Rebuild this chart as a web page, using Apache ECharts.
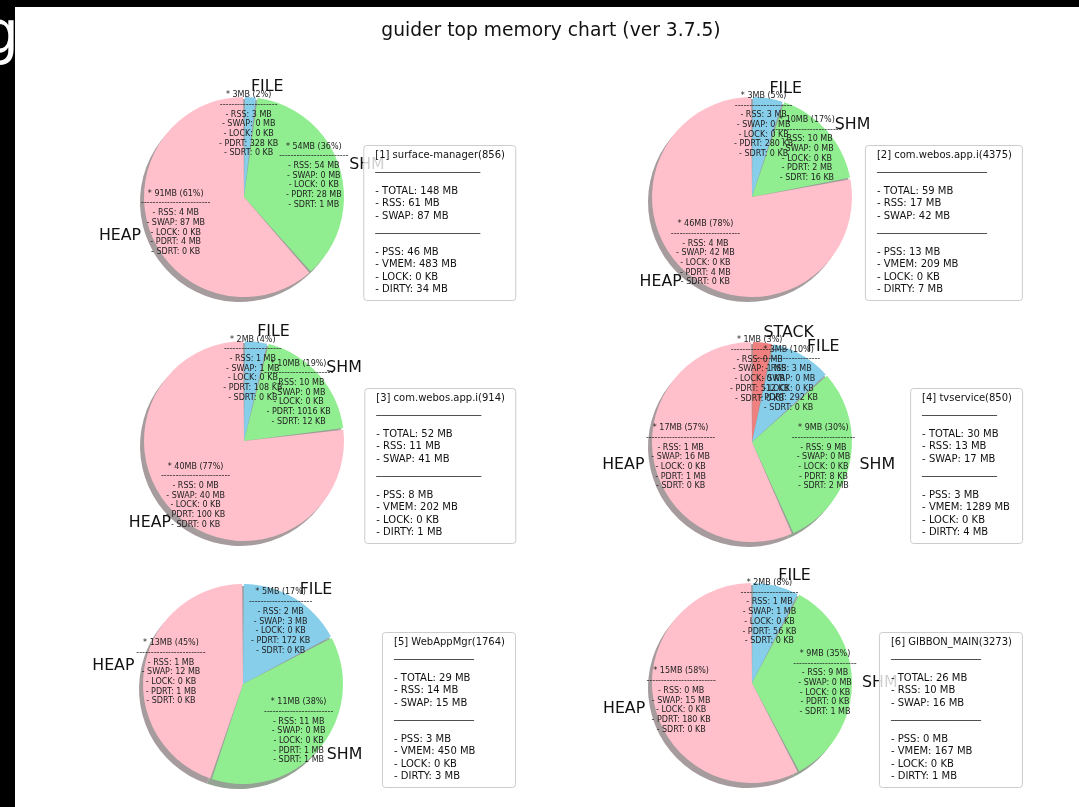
<!DOCTYPE html>
<html><head><meta charset="utf-8">
<script src="https://cdn.jsdelivr.net/npm/echarts@6/dist/echarts.min.js"></script>
<style>html,body{margin:0;padding:0;background:#fff}#c{width:1079px;height:807px}</style>
</head><body><div id="c"></div>
<script>
// ---------- data ----------
const chartTitle = 'guider top memory chart (ver 3.7.5)';
const procTitles = ['[1] surface-manager(856)', '[2] com.webos.app.i(4375)', '[3] com.webos.app.i(914)',
                    '[4] tvservice(850)', '[5] WebAppMgr(1764)', '[6] GIBBON_MAIN(3273)'];
const totalMB = [148, 59, 52, 30, 29, 26];
const rssMB   = [61, 17, 11, 13, 14, 10];
const swapMB  = [87, 42, 41, 17, 15, 16];
const pssMB   = [46, 13, 8, 3, 3, 0];
const vmemMB  = [483, 209, 202, 1289, 450, 167];
const lockKB  = [0, 0, 0, 0, 0, 0];
const dirtyMB = [34, 7, 1, 4, 3, 1];

const sliceNames = [['FILE','SHM','HEAP'], ['FILE','SHM','HEAP'], ['FILE','SHM','HEAP'],
                    ['STACK','FILE','SHM','HEAP'], ['FILE','SHM','HEAP'], ['FILE','SHM','HEAP']];
const sliceMB  = [[3,54,91], [3,10,46], [2,10,40], [1,3,9,17], [5,11,13], [2,9,15]];
const slicePct = [[2,36,61], [5,17,78], [4,19,77], [3,10,30,57], [17,38,45], [8,35,58]];
const sliceRSS  = [['3 MB','54 MB','4 MB'], ['3 MB','10 MB','4 MB'], ['1 MB','10 MB','0 MB'],
                   ['0 MB','3 MB','9 MB','1 MB'], ['2 MB','11 MB','1 MB'], ['1 MB','9 MB','0 MB']];
const sliceSWAP = [['0 MB','0 MB','87 MB'], ['0 MB','0 MB','42 MB'], ['1 MB','0 MB','40 MB'],
                   ['1 MB','0 MB','0 MB','16 MB'], ['3 MB','0 MB','12 MB'], ['1 MB','0 MB','15 MB']];
const sliceLOCK = [['0 KB','0 KB','0 KB'], ['0 KB','0 KB','0 KB'], ['0 KB','0 KB','0 KB'],
                   ['0 KB','0 KB','0 KB','0 KB'], ['0 KB','0 KB','0 KB'], ['0 KB','0 KB','0 KB']];
const slicePDRT = [['328 KB','28 MB','4 MB'], ['280 KB','2 MB','4 MB'], ['108 KB','1016 KB','100 KB'],
                   ['512 KB','292 KB','8 KB','1 MB'], ['172 KB','1 MB','1 MB'], ['56 KB','0 KB','180 KB']];
const sliceSDRT = [['0 KB','1 MB','0 KB'], ['0 KB','16 KB','0 KB'], ['0 KB','12 KB','0 KB'],
                   ['0 KB','0 KB','2 MB','0 KB'], ['0 KB','1 MB','0 KB'], ['0 KB','1 MB','0 KB']];

// ---------- style / layout ----------
const FONT = 'DejaVu Sans';
const colorOf  = {HEAP:'#ffc0cb', FILE:'#87ceeb', SHM:'#90ee90', STACK:'#f08080'};
const shadowOf = {HEAP:'#a69c9e', FILE:'#949fa3', SHM:'#95a395', STACK:'#a39393'};
const centers = [[244,197],[752,197],[244,441],[752,442],[243,684],[752,683]];
const R = 100;
const boxRight = [516,1023,516,1023,516,1023];
const boxTop = [145,145,388,388,632,632];

function sliceText(i, j) {
  const head = '* ' + sliceMB[i][j] + 'MB (' + slicePct[i][j] + '%)';
  return [head, '-'.repeat(head.length * 2),
    '- RSS: ' + sliceRSS[i][j], '- SWAP: ' + sliceSWAP[i][j], '- LOCK: ' + sliceLOCK[i][j],
    '- PDRT: ' + slicePDRT[i][j], '- SDRT: ' + sliceSDRT[i][j]].join('\n');
}
function boxText(i) {
  const rule = '_'.repeat(procTitles[i].length - 3);
  return [procTitles[i], rule, '',
    '- TOTAL: ' + totalMB[i] + ' MB', '- RSS: ' + rssMB[i] + ' MB', '- SWAP: ' + swapMB[i] + ' MB',
    rule, '',
    '- PSS: ' + pssMB[i] + ' MB', '- VMEM: ' + vmemMB[i] + ' MB', '- LOCK: ' + lockKB[i] + ' KB',
    '- DIRTY: ' + dirtyMB[i] + ' MB'].join('\n');
}

const noHide = {hideOverlap: false, moveOverlap: false};
const series = [];
const titles = [];
for (let i = 0; i < 6; i++) {
  const [cx, cy] = centers[i];
  const base = sliceNames[i].map((n, j) => ({name: n, value: sliceMB[i][j]}));
  // offset shadow
  series.push({
    type: 'pie', center: [cx - 4, cy + 5], radius: R, silent: true, z: 1,
    data: base.map(d => ({...d, itemStyle: {color: shadowOf[d.name]}})),
    label: {show: false}, labelLine: {show: false}, labelLayout: noHide
  });
  // shadow seen through the gaps between wedges
  series.push({
    type: 'pie', center: [cx, cy], radius: R - 2, silent: true, z: 1,
    data: base.map(d => ({...d, itemStyle: {color: shadowOf[d.name]}})),
    label: {show: false}, labelLine: {show: false}, labelLayout: noHide
  });
  series.push({
    type: 'pie', center: [cx, cy], radius: R, silent: true, z: 2, padAngle: 1,
    avoidLabelOverlap: false, labelLayout: noHide,
    data: base.map(d => ({...d, itemStyle: {color: colorOf[d.name]}})),
    label: {show: true, position: 'outside', formatter: '{b}', fontFamily: FONT, fontSize: 15.8,
            color: '#111', distanceToLabelLine: 0},
    labelLine: {show: false, length: 10, length2: 0}
  });
  series.push({
    type: 'pie', center: [cx, cy], radius: [40, R], silent: true, z: 3,
    avoidLabelOverlap: false, labelLayout: noHide,
    data: base.map(d => ({...d, itemStyle: {color: 'rgba(0,0,0,0)'}})),
    label: {show: true, position: 'inside', formatter: p => sliceText(i, p.dataIndex),
            fontFamily: FONT, fontSize: 8, lineHeight: 9.7, color: '#222', textBorderWidth: 0,
            align: 'center'},
    labelLine: {show: false}
  });
  titles.push({
    text: boxText(i), right: 1079 - boxRight[i], top: boxTop[i], z: 10,
    padding: [4, 11, 5, 12], backgroundColor: 'rgba(255,255,255,0.8)',
    borderColor: '#cccccc', borderWidth: 1, borderRadius: 3,
    textStyle: {fontFamily: FONT, fontSize: 10, fontWeight: 'normal', color: '#111', lineHeight: 12.2}
  });
}

const chart = echarts.init(document.getElementById('c'), null, {renderer: 'canvas'});
chart.setOption({
  animation: false,
  backgroundColor: '#ffffff',
  textStyle: {fontFamily: FONT},
  title: titles,
  series: series,
  graphic: [
    {type: 'rect', shape: {x: 0, y: 0, width: 1079, height: 7}, style: {fill: '#000'}, z: 50},
    {type: 'rect', shape: {x: 0, y: 0, width: 15, height: 807}, style: {fill: '#000'}, z: 50},
    {type: 'text', x: -18, y: 38, z: 51,
     style: {text: 'g', fill: '#fff', font: '58px "DejaVu Sans"', align: 'left', verticalAlign: 'middle',
             textAlign: 'left', textVerticalAlign: 'middle'}},
    {type: 'text', x: 551, y: 31, z: 20,
     style: {text: chartTitle, fill: '#111', font: '18.7px "DejaVu Sans"', align: 'center',
             verticalAlign: 'middle', textAlign: 'center', textVerticalAlign: 'middle'}}
  ]
});
</script>
</body></html>
